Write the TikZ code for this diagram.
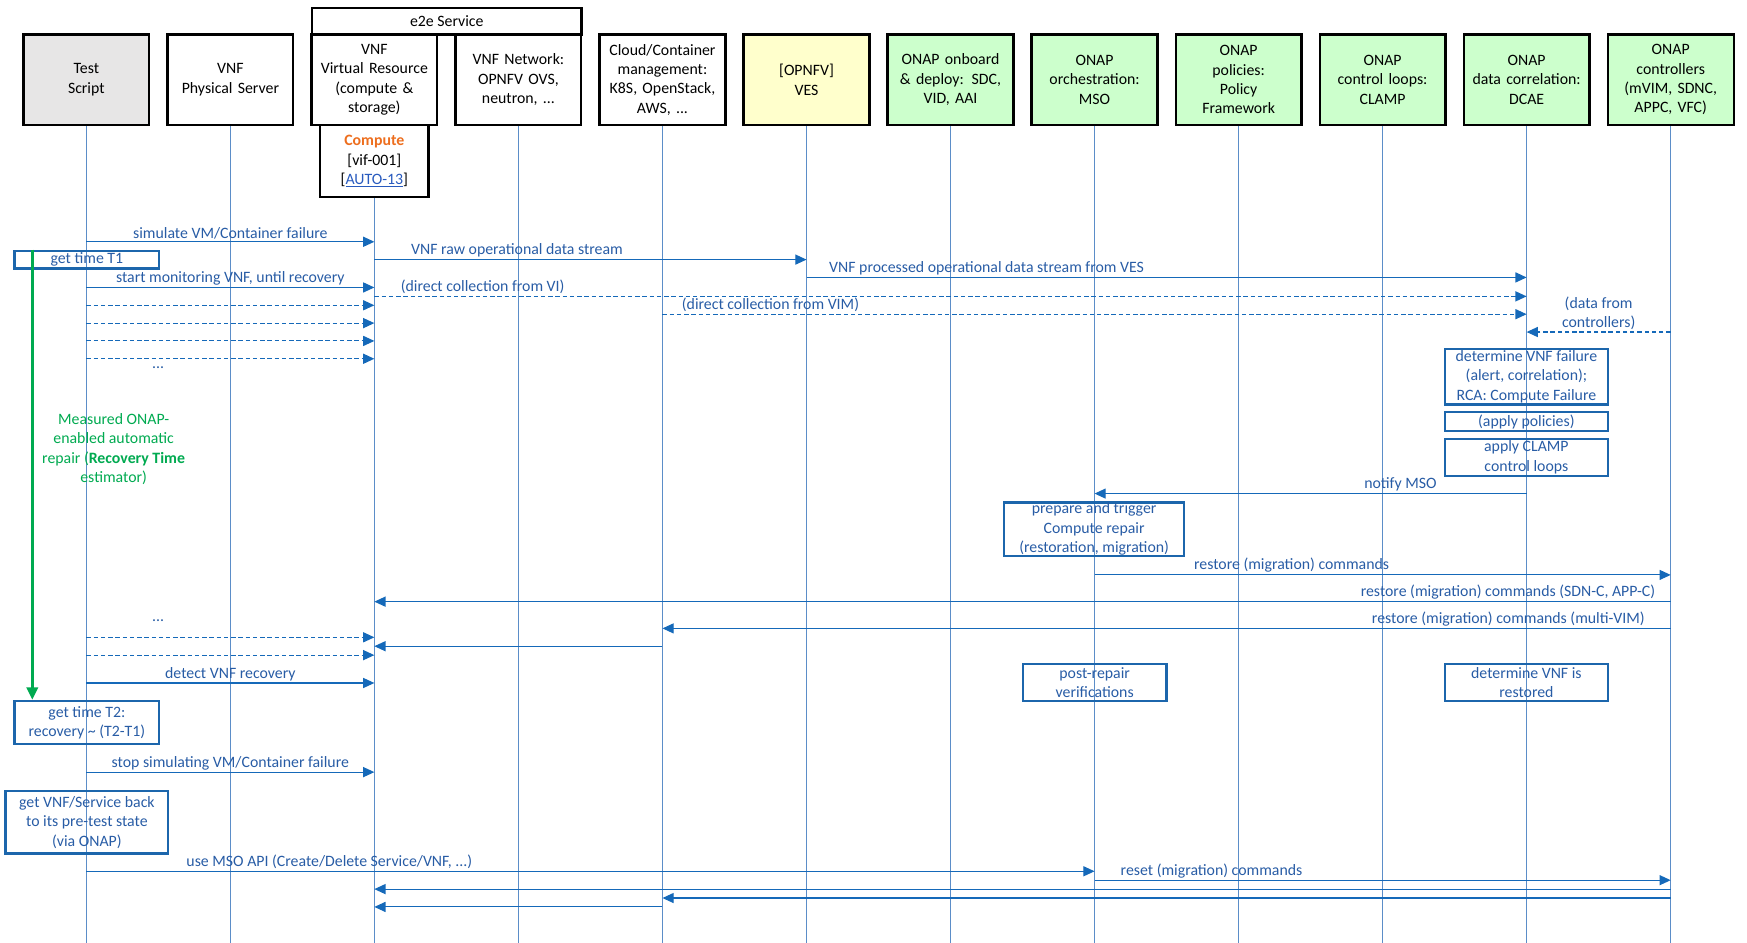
\documentclass[tikz,border=0pt]{standalone}
\usepackage{fontspec}
\setmainfont{Carlito}
\usetikzlibrary{arrows.meta}
\definecolor{lifeblue}{RGB}{91,141,200}
\definecolor{arrblue}{RGB}{21,105,185}
\definecolor{txtblue}{RGB}{40,92,165}
\definecolor{boxblue}{RGB}{28,102,172}
\definecolor{linkblue}{RGB}{40,90,190}
\definecolor{grayfill}{RGB}{231,230,230}
\definecolor{yelfill}{RGB}{255,255,204}
\definecolor{grnfill}{RGB}{204,255,204}
\definecolor{mgreen}{RGB}{0,170,80}
\definecolor{corange}{RGB}{237,110,30}
\begin{document}
\begin{tikzpicture}[x=1pt,y=1pt, font=\fontsize{14.2}{17.4}\selectfont,
 hdr/.style={draw=black, line width=2pt, minimum width=113pt, minimum height=81pt, inner sep=0pt, align=center, text width=110pt},
 life/.style={draw=lifeblue, line width=0.8pt},
 msg/.style={draw=arrblue, line width=1pt, -{Triangle[length=10pt,width=9pt]}},
 dmsg/.style={msg, dash pattern=on 4pt off 2.5pt},
 lbl/.style={text=txtblue, above, inner sep=1.5pt},
 act/.style={draw=boxblue, line width=2pt, inner sep=0pt, align=center, text=txtblue},
 garrow/.style={draw=mgreen, line width=3pt, -{Triangle[length=11pt,width=10pt]}},
]
\useasboundingbox (0,0) rectangle (1568,-846);

% headers
\node[hdr, fill=grayfill] (ts) at (77.5,-71.5) {Test\\Script};
\node[hdr] (ps) at (206.8,-71.5) {VNF\\Physical Server};
\node[hdr] (vr) at (336,-71.5) {VNF\\Virtual Resource\\(compute \&\\storage)};
\node[hdr] (nw) at (465.3,-71.5) {VNF Network:\\OPNFV OVS,\\neutron, ...};
\node[hdr] (cl) at (594.6,-71.5) {Cloud/Container\\management:\\K8S, OpenStack,\\AWS, ...};
\node[hdr, fill=yelfill] (ves) at (723.9,-71.5) {[OPNFV]\\VES};
\node[hdr, fill=grnfill] (ob) at (853.1,-71.5) {ONAP onboard\\\& deploy: SDC,\\VID, AAI};
\node[hdr, fill=grnfill] (mso) at (982.4,-71.5) {ONAP\\orchestration:\\MSO};
\node[hdr, fill=grnfill] (pol) at (1111.7,-71.5) {ONAP\\policies:\\Policy\\Framework};
\node[hdr, fill=grnfill] (clamp) at (1240.9,-71.5) {ONAP\\control loops:\\CLAMP};
\node[hdr, fill=grnfill] (dcae) at (1370.2,-71.5) {ONAP\\data correlation:\\DCAE};
\node[hdr, fill=grnfill] (ctl) at (1499.5,-71.5) {ONAP\\controllers\\(mVIM, SDNC,\\APPC, VFC)};
\node[draw=black, line width=2pt, minimum width=242pt, minimum height=24pt, inner sep=0pt] (e2e) at (401,-19) {e2e Service};
\node[draw=black, line width=2pt, minimum width=97pt, minimum height=65pt, inner sep=0pt, align=center] (cmp) at (336,-144.5)
  {\textcolor{corange}{\bfseries Compute}\\{}[vif-001]\\{}[\textcolor{linkblue}{\underline{AUTO-13}}]};

% lifelines
\foreach \h in {ts,ps,nw,cl,ves,ob,mso,pol,clamp,dcae,ctl}
  \draw[life] (\h.south) -- (\h.south |- 0,-846);
\draw[life] (cmp.south) -- (cmp.south |- 0,-846);

% messages
\draw[msg] (ts |- 0,-217) -- node[lbl]{simulate VM/Container failure} (vr |- 0,-217);
\draw[msg] (vr |- 0,-233) -- node[lbl,pos=0.33]{VNF raw operational data stream} (ves |- 0,-233);
\draw[msg] (ves |- 0,-249) -- node[lbl,pos=0.25]{VNF processed operational data stream from VES} (dcae |- 0,-249);
\draw[msg] (ts |- 0,-258) -- node[lbl]{start monitoring VNF, until recovery} (vr |- 0,-258);
\draw[dmsg] (vr |- 0,-266) -- node[lbl,pos=0.094]{(direct collection from VI)} (dcae |- 0,-266);
\draw[dmsg] (ts |- 0,-274) -- (vr |- 0,-274);
\draw[dmsg] (cl |- 0,-282) -- node[lbl,pos=0.125]{(direct collection from VIM)} (dcae |- 0,-282);
\draw[dmsg] (ts |- 0,-290) -- (vr |- 0,-290);
\draw[dmsg] (ctl |- 0,-298) -- node[lbl,pos=0.5,align=center]{(data from\\controllers)} (dcae |- 0,-298);
\draw[dmsg] (ts |- 0,-306) -- (vr |- 0,-306);
\draw[dmsg] (ts |- 0,-322) -- (vr |- 0,-322);
\node[text=txtblue] (dots1) at (142,-330) {...};

% activity boxes
\node[act, minimum width=130pt, minimum height=16pt] (t1) at (78,-233) {get time T1};
\node[act, minimum width=146pt, minimum height=50pt] (fail) at (1370,-338) {determine VNF failure\\(alert, correlation);\\RCA: Compute Failure};
\node[act, minimum width=146pt, minimum height=17pt] (apol) at (1370,-378.5) {(apply policies)};
\node[act, minimum width=146pt, minimum height=33pt] (aclamp) at (1370,-410.5) {apply CLAMP\\control loops};
\draw[msg] (dcae |- 0,-443) -- node[lbl,pos=0.292]{notify MSO} (mso |- 0,-443);
\node[act, minimum width=162pt, minimum height=48pt] (prep) at (982,-475) {prepare and trigger\\Compute repair\\(restoration, migration)};
\draw[msg] (mso |- 0,-516) -- node[lbl,pos=0.342]{restore (migration) commands} (ctl |- 0,-516);
\draw[msg] (ctl |- 0,-540) -- node[lbl,pos=0.1255]{restore (migration) commands (SDN-C, APP-C)} (vr |- 0,-540);
\draw[msg] (ctl |- 0,-564) -- node[lbl,pos=0.161]{restore (migration) commands (multi-VIM)} (cl |- 0,-564);
\node[text=txtblue] (dots2) at (142,-557) {...};
\draw[dmsg] (ts |- 0,-572) -- (vr |- 0,-572);
\draw[msg] (cl |- 0,-580) -- (vr |- 0,-580);
\draw[dmsg] (ts |- 0,-588) -- (vr |- 0,-588);
\draw[msg] (ts |- 0,-613) -- node[lbl]{detect VNF recovery} (vr |- 0,-613);
\node[act, minimum width=129pt, minimum height=33pt] (post) at (982.5,-612.5) {post-repair\\verifications};
\node[act, minimum width=146pt, minimum height=33pt] (rest) at (1370,-612.5) {determine VNF is\\restored};
\node[act, minimum width=130pt, minimum height=39pt] (t2) at (78,-648.5) {get time T2:\\recovery \textasciitilde{} (T2-T1)};
\draw[msg] (ts |- 0,-693) -- node[lbl]{stop simulating VM/Container failure} (vr |- 0,-693);
\node[act, minimum width=146pt, minimum height=56pt] (back) at (78,-738) {get VNF/Service back\\to its pre-test state\\(via ONAP)};
\draw[msg] (ts |- 0,-782) -- node[lbl,pos=0.241]{use MSO API (Create/Delete Service/VNF, ...)} (mso |- 0,-782);
\draw[msg] (mso |- 0,-790) -- node[lbl,pos=0.203]{reset (migration) commands} (ctl |- 0,-790);
\draw[msg] (ctl |- 0,-798) -- (vr |- 0,-798);
\draw[msg] (ctl |- 0,-806) -- (cl |- 0,-806);
\draw[msg] (cl |- 0,-814) -- (vr |- 0,-814);

% recovery time measurement
\draw[garrow] (29,0 |- t1.north) -- (29,0 |- t2.north);
\node[text=mgreen, align=center] (meas) at (102,-403) {Measured ONAP-\\enabled automatic\\repair (\textbf{Recovery Time}\\estimator)};
\end{tikzpicture}
\end{document}
